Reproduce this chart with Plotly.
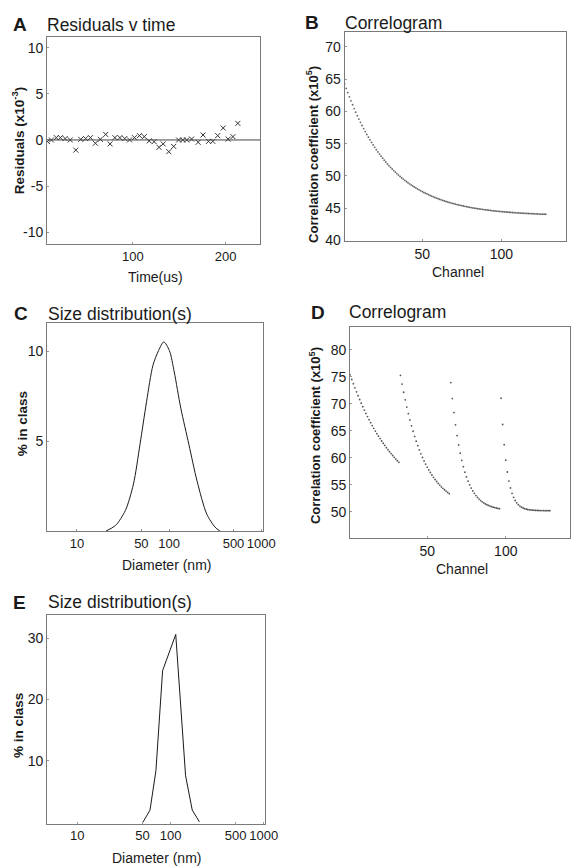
import plotly.graph_objects as go

# ---------------- data ----------------
# Panel A: residuals vs time
time_us = [8.1, 12.3, 17.6, 22.1, 27.1, 32.6, 38.6, 43.9, 49.2, 54.4,
           59.7, 65.0, 70.8, 75.5, 80.7, 86.0, 91.3, 96.5, 101.8, 107.1,
           112.3, 117.6, 122.9, 128.2, 132.7, 138.7, 144.0, 149.3, 153.8, 158.0,
           163.3, 170.3, 175.6, 181.5, 186.1, 191.4, 197.3, 202.6, 207.8, 213.1]
residuals = [-0.18, 0.0, 0.25, 0.25, 0.15, 0.0, -1.1, 0.07, 0.15, 0.25,
             -0.36, 0.07, 0.6, -0.43, 0.25, 0.25, 0.15, 0.0, 0.25, 0.47,
             0.36, -0.1, -0.18, -0.8, -0.43, -1.27, -0.7, 0.0, 0.0, 0.0,
             0.1, -0.25, 0.54, -0.15, -0.15, 0.47, 1.3, 0.1, 0.36, 1.8]

# Panel B: correlogram (128 channels)
channels = list(range(1, 129))
corr_b = [64.28, 63.59, 62.92, 62.27, 61.64, 61.04, 60.45, 59.89, 59.34, 58.82,
          58.31, 57.82, 57.34, 56.88, 56.44, 56.01, 55.60, 55.20, 54.81, 54.44,
          54.08, 53.73, 53.39, 53.07, 52.75, 52.45, 52.16, 51.87, 51.60, 51.33,
          51.08, 50.83, 50.59, 50.36, 50.14, 49.93, 49.72, 49.52, 49.32, 49.14,
          48.96, 48.78, 48.61, 48.45, 48.29, 48.14, 47.99, 47.85, 47.71, 47.58,
          47.45, 47.33, 47.21, 47.09, 46.98, 46.87, 46.77, 46.67, 46.57, 46.48,
          46.39, 46.30, 46.21, 46.13, 46.05, 45.98, 45.90, 45.83, 45.76, 45.70,
          45.63, 45.57, 45.51, 45.45, 45.40, 45.34, 45.29, 45.24, 45.19, 45.14,
          45.10, 45.05, 45.01, 44.97, 44.93, 44.89, 44.86, 44.82, 44.79, 44.75,
          44.72, 44.69, 44.66, 44.63, 44.60, 44.57, 44.55, 44.52, 44.50, 44.47,
          44.45, 44.43, 44.41, 44.39, 44.37, 44.35, 44.33, 44.31, 44.29, 44.28,
          44.26, 44.25, 44.23, 44.22, 44.20, 44.19, 44.18, 44.16, 44.15, 44.14,
          44.13, 44.12, 44.11, 44.09, 44.08, 44.08, 44.07, 44.06]

# Panel C: size distribution (broad)
diam_c = [20.6, 26.2, 33.5, 41.0, 48.3, 56.9, 66.8, 76.9, 87.5, 100.7,
          113.7, 134.0, 164.0, 201.0, 256.0, 315.0, 356.0]
pct_c = [0.0, 0.31, 1.14, 2.61, 4.82, 7.2, 9.23, 10.05, 10.53, 10.05,
         8.86, 6.84, 4.82, 2.79, 0.95, 0.22, 0.0]

# Panel D: correlogram, four sample-time segments of 32 channels
corr_d = [75.35, 74.52, 73.73, 72.95, 72.21, 71.49, 70.79, 70.11, 69.46, 68.83,
          68.22, 67.63, 67.06, 66.50, 65.97, 65.45, 64.95, 64.47, 64.00, 63.55,
          63.11, 62.69, 62.28, 61.88, 61.50, 61.13, 60.77, 60.42, 60.09, 59.76,
          59.45, 59.15,
          75.27, 73.65, 72.14, 70.73, 69.40, 68.16, 67.01, 65.92, 64.91, 63.96,
          63.07, 62.24, 61.47, 60.74, 60.06, 59.42, 58.83, 58.27, 57.75, 57.27,
          56.81, 56.38, 55.98, 55.61, 55.26, 54.94, 54.63, 54.34, 54.08, 53.83,
          53.59, 53.37,
          73.92, 70.96, 68.37, 66.10, 64.11, 62.38, 60.86, 59.53, 58.36, 57.34,
          56.45, 55.67, 54.99, 54.39, 53.87, 53.41, 53.01, 52.66, 52.35, 52.08,
          51.85, 51.64, 51.46, 51.30, 51.17, 51.05, 50.94, 50.85, 50.77, 50.70,
          50.63, 50.58,
          71.03, 66.16, 62.42, 59.56, 57.37, 55.69, 54.41, 53.42, 52.67, 52.09,
          51.65, 51.31, 51.05, 50.85, 50.70, 50.58, 50.49, 50.42, 50.37, 50.33,
          50.30, 50.28, 50.26, 50.25, 50.24, 50.23, 50.22, 50.22, 50.21, 50.21,
          50.21, 50.21]

# Panel E: size distribution (narrow)
diam_e = [50.4, 60.2, 69.7, 82.2, 113.7, 145.0, 171.0, 204.0]
pct_e = [0.0, 2.0, 8.4, 24.7, 30.6, 7.6, 2.0, 0.1]

size_ticks = [10, 50, 100, 500, 1000]

# ---------------- figure ----------------
W, H = 584, 868
FONT = "Liberation Sans, Arial, sans-serif"
INK = "#1a1a1a"
FRAME = "#7a7a7a"


def px_x(p):
    return p / W


def px_y(p):
    return 1 - p / H


fig = go.Figure()

fig.add_trace(go.Scatter(x=time_us, y=residuals, mode="markers",
                         marker=dict(symbol="x-thin", size=5, line=dict(width=1, color="#333")),
                         xaxis="x", yaxis="y", showlegend=False))
fig.add_trace(go.Scatter(x=channels, y=corr_b, mode="markers",
                         marker=dict(size=1.8, color="#666"),
                         xaxis="x2", yaxis="y2", showlegend=False))
fig.add_trace(go.Scatter(x=diam_c, y=pct_c, mode="lines",
                         line=dict(color=INK, width=1, shape="spline", smoothing=0.8),
                         xaxis="x3", yaxis="y3", showlegend=False))
fig.add_trace(go.Scatter(x=channels, y=corr_d, mode="markers",
                         marker=dict(size=1.8, color="#555"),
                         xaxis="x4", yaxis="y4", showlegend=False))
fig.add_trace(go.Scatter(x=diam_e, y=pct_e, mode="lines",
                         line=dict(color=INK, width=1),
                         xaxis="x5", yaxis="y5", showlegend=False))

# zero reference line in panel A
fig.add_shape(type="line", xref="x domain", yref="y", x0=0, x1=1, y0=0, y1=0,
              line=dict(color="#444", width=1))

boxes = {
    # name: (left, right, top, bottom) in px
    1: (40, 258, 29, 238),
    2: (344.3, 571, 24.3, 235),
    3: (40, 260.7, 317.3, 527.3),
    4: (350, 575, 321.7, 534),
    5: (40, 263.3, 611.7, 822.3),
}

common = dict(showline=True, mirror=True, linecolor=FRAME, linewidth=1.2,
              showgrid=False, zeroline=False, ticks="inside", ticklen=2,
              tickcolor="#999", tickangle=0,
              tickfont=dict(family=FONT, size=14, color=INK))

xranges = {1: [7.7, 237.2], 2: [1, 141], 3: [0.676, 3.018], 4: [1, 141], 5: [0.676, 3.018]}
yranges = {1: [-11.3, 11.2], 2: [39.9, 72.3], 3: [0, 11.6], 4: [45.2, 84.2], 5: [-0.2, 33.8]}
xtv = {1: [100, 200], 2: [50, 100], 3: size_ticks, 4: [50, 100], 5: size_ticks}
ytv = {1: [-10, -5, 0, 5, 10], 2: [40, 45, 50, 55, 60, 65, 70], 3: [5, 10],
       4: [50, 55, 60, 65, 70, 75, 80], 5: [10, 20, 30]}
xfont = {1: 13, 2: 14, 3: 13, 4: 14, 5: 13}

layout = {}
for i, (l, r, t, b) in boxes.items():
    xn = "xaxis" if i == 1 else f"xaxis{i}"
    yn = "yaxis" if i == 1 else f"yaxis{i}"
    xa = dict(common, domain=[px_x(l), px_x(r)], anchor="y" if i == 1 else f"y{i}",
              range=xranges[i], tickvals=xtv[i], ticktext=[str(v) for v in xtv[i]],
              tickfont=dict(family=FONT, size=xfont[i], color=INK))
    if i in (3, 5):
        xa["type"] = "log"
    ya = dict(common, domain=[px_y(b), px_y(t)], anchor="x" if i == 1 else f"x{i}",
              range=yranges[i], tickvals=ytv[i], ticktext=[str(v) for v in ytv[i]])
    layout[xn] = xa
    layout[yn] = ya

fig.update_layout(**layout)

ann = []


def text(x, y, s, size, bold=False, angle=0, xanchor="center"):
    ann.append(dict(x=px_x(x), y=px_y(y), xref="paper", yref="paper", text=(f"<b>{s}</b>" if bold else s),
                    showarrow=False, textangle=angle, xanchor=xanchor, yanchor="middle",
                    font=dict(family=FONT, size=size, color=INK)))


# panel letters and titles
text(3, 17, "A", 19, bold=True, xanchor="left")
text(37.5, 17, "Residuals v time", 17.5, xanchor="left")
text(301.5, 15, "B", 19, bold=True, xanchor="left")
text(343, 15, "Correlogram", 17.5, xanchor="left")
text(4, 308, "C", 19, bold=True, xanchor="left")
text(39, 308, "Size distribution(s)", 17.5, xanchor="left")
text(308, 306.5, "D", 19, bold=True, xanchor="left")
text(347, 306.5, "Correlogram", 17.5, xanchor="left")
text(3.3, 599, "E", 19, bold=True, xanchor="left")
text(39, 599, "Size distribution(s)", 17.5, xanchor="left")

# axis titles
text(150.5, 271.5, "Time(us)", 14)
text(11, 133.5, "Residuals (x10<sup>-3</sup>)", 13.5, bold=True, angle=-90)
text(460, 266.5, "Channel", 14)
text(311, 148, "Correlation coefficient (x10<sup>5</sup>)", 13, bold=True, angle=-90)
text(162.5, 561.5, "Diameter (nm)", 14)
text(15, 419, "% in class", 13.5, bold=True, angle=-90)
text(464, 566, "Channel", 14)
text(314, 431.5, "Correlation coefficient (x10<sup>5</sup>)", 13, bold=True, angle=-90)
text(152, 856.5, "Diameter (nm)", 14)
text(10, 723, "% in class", 13.5, bold=True, angle=-90)

fig.update_layout(annotations=ann, width=W, height=H,
                  margin=dict(l=0, r=0, t=0, b=0),
                  paper_bgcolor="white", plot_bgcolor="white",
                  font=dict(family=FONT, color=INK))

fig.write_html("out.html")
